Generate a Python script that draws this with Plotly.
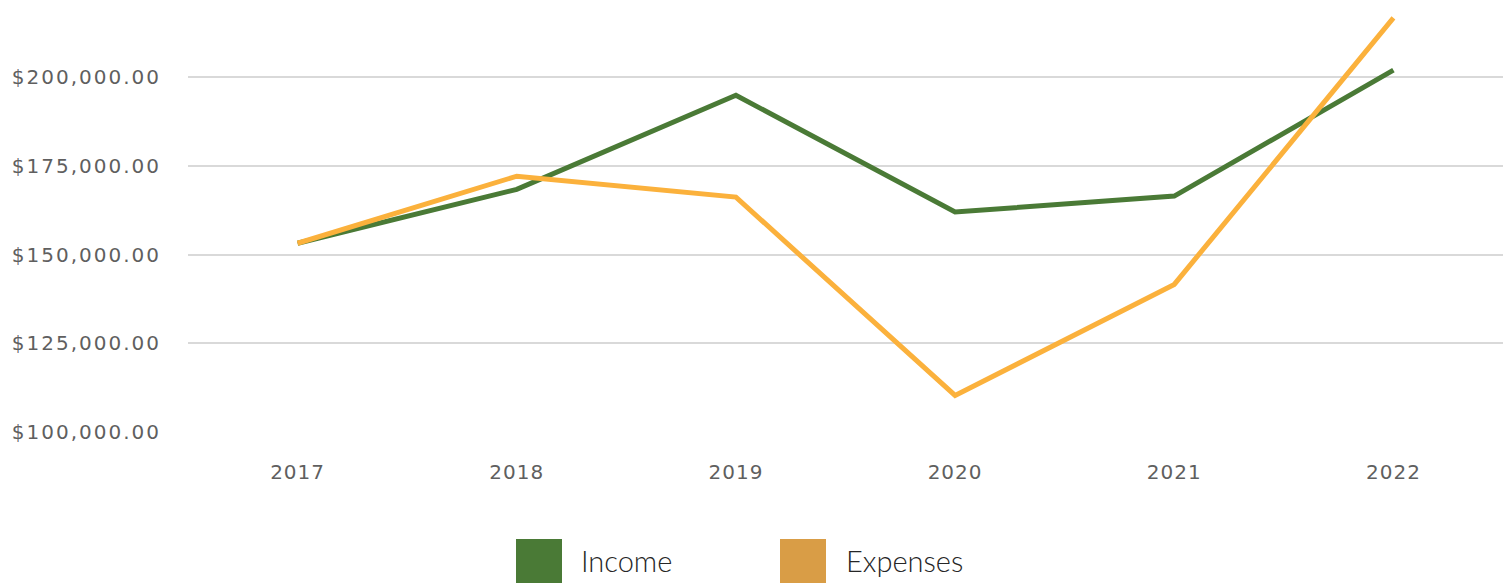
import plotly.graph_objects as go

years = ["2017", "2018", "2019", "2020", "2021", "2022"]
income = [153200, 168400, 194900, 162000, 166500, 202000]
expenses = [153200, 172100, 166200, 110300, 141600, 216700]
ytick_vals = [100000, 125000, 150000, 175000, 200000]
ytick_text = ["$100,000.00", "$125,000.00", "$150,000.00", "$175,000.00", "$200,000.00"]

GREEN = "#4a7a36"
ORANGE = "#fbb13c"
LEG_ORANGE = "#d99d46"

fig = go.Figure()
fig.add_trace(go.Scatter(x=years, y=income, mode="lines", name="Income",
                         line=dict(color=GREEN, width=5)))
fig.add_trace(go.Scatter(x=years, y=expenses, mode="lines", name="Expenses",
                         line=dict(color=ORANGE, width=5)))

W, H = 1511, 583
L, R, T, B = 188, 8, 0, 151
pw, ph = W - L - R, H - T - B

def px(x):
    return (x - L) / pw

def py(y):
    return (ph - (y - T)) / ph

TICKFONT = dict(family="DejaVu Sans, sans-serif", size=20, color="#5f5f5f")

fig.update_layout(
    width=W, height=H,
    margin=dict(l=L, r=R, t=T, b=B),
    plot_bgcolor="white", paper_bgcolor="white",
    showlegend=False,
    font=dict(family="DejaVu Sans, sans-serif", color="#5f5f5f", size=20),
)
fig.update_xaxes(type="category", range=[-0.5, 5.5], showgrid=False, zeroline=False,
                 showline=False, ticks="", ticklabelstandoff=26, tickfont=TICKFONT)
fig.update_yaxes(range=[100000, 221760], tickmode="array", tickvals=ytick_vals,
                 ticktext=ytick_text, showgrid=True, gridcolor="#d9d9d9",
                 gridwidth=2, zeroline=False, showline=False, ticks="",
                 ticklabelstandoff=26, tickfont=TICKFONT)

shapes = []
for x0, x1, col in [(516, 562, GREEN), (780, 826, LEG_ORANGE)]:
    shapes.append(dict(type="rect", xref="paper", yref="paper",
                       x0=px(x0), x1=px(x1), y0=py(539), y1=py(583),
                       fillcolor=col, line=dict(width=0)))
fig.update_layout(shapes=shapes)

for x, txt in [(579, "Income"), (844, "Expenses")]:
    fig.add_annotation(x=px(x), y=py(560), xref="paper", yref="paper",
                       text=txt, showarrow=False, xanchor="left", yanchor="middle",
                       font=dict(size=29, color="#262626", family="Lato, sans-serif", weight=300))

post = """
document.body.style.margin = '0';
document.querySelectorAll('.ytick text').forEach(function(t){ t.style.letterSpacing = '2px'; });
document.querySelectorAll('.xtick text').forEach(function(t){ t.style.letterSpacing = '1px'; });
"""
fig.write_html("out.html", post_script=post, config={"displayModeBar": False})
